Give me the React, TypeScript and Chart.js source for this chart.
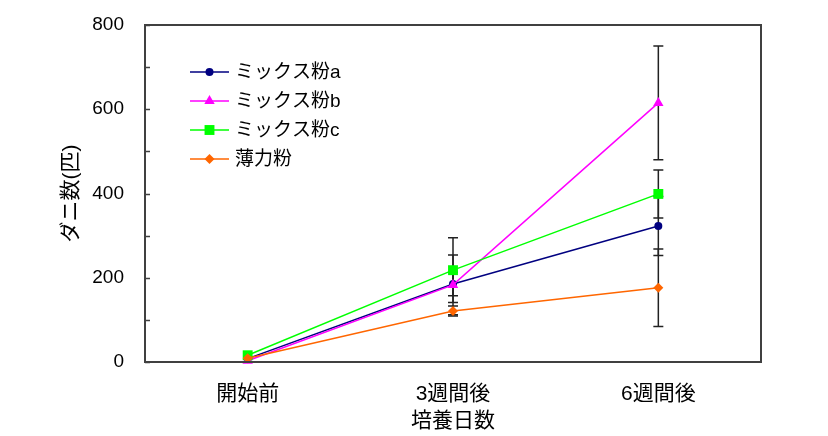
import React, { useEffect, useRef } from 'react';
import { Chart, registerables } from 'chart.js';

Chart.register(...registerables);

const categories = ['開始前', '3週間後', '6週間後'];
const seriesNames = ['ミックス粉a', 'ミックス粉b', 'ミックス粉c', '薄力粉'];
const mixA = [8, 185, 323];
const mixB = [3, 183, 615];
const mixC = [16, 218, 399];
const hakuriki = [9, 121, 176];
const errA = [0, 28, 70];
const errB = [0, 71, 135];
const errC = [0, 77, 57];
const errH = [0, 12, 92];
const yMin = 0;
const yMax = 800;
const yMinorStep = 100;
const yLabelStep = 200;
const xTitle = '培養日数';
const yTitle = 'ダニ数(匹)';

const colors = ['#000080', '#FF00FF', '#00FF00', '#FF6600'];
const styles = ['circle', 'triangle', 'rect', 'rectRot'];
const radii = [4, 6, 7, 5];
const FONT = '"Liberation Sans", "Noto Sans CJK JP", sans-serif';

function drawMarker(ctx: CanvasRenderingContext2D, style: string, x: number, y: number, r: number, color: string) {
  ctx.save();
  ctx.fillStyle = color;
  ctx.beginPath();
  if (style === 'circle') {
    ctx.arc(x, y, r, 0, Math.PI * 2);
  } else if (style === 'triangle') {
    for (let k = 0; k < 3; k++) {
      const a = -Math.PI / 2 + (k * 2 * Math.PI) / 3;
      const px = x + Math.cos(a) * r;
      const py = y + Math.sin(a) * r;
      if (k === 0) ctx.moveTo(px, py);
      else ctx.lineTo(px, py);
    }
    ctx.closePath();
  } else if (style === 'rect') {
    const s = r * Math.SQRT1_2;
    ctx.rect(x - s, y - s, 2 * s, 2 * s);
  } else {
    ctx.moveTo(x, y - r);
    ctx.lineTo(x + r, y);
    ctx.lineTo(x, y + r);
    ctx.lineTo(x - r, y);
    ctx.closePath();
  }
  ctx.fill();
  ctx.restore();
}

const errors = [errA, errB, errC, errH];

const customPlugin = {
  id: 'customDecor',
  beforeDatasetsDraw(chart: any) {
    const ctx = chart.ctx as CanvasRenderingContext2D;
    const xs = chart.scales.x;
    const ys = chart.scales.y;
    ctx.save();
    ctx.strokeStyle = '#222';
    ctx.lineWidth = 1.5;
    chart.data.datasets.forEach((ds: any, i: number) => {
      ds.data.forEach((v: number, j: number) => {
        const e = errors[i][j];
        if (!e) return;
        const x = xs.getPixelForValue(j);
        const yt = ys.getPixelForValue(v + e);
        const yb = ys.getPixelForValue(v - e);
        ctx.beginPath();
        ctx.moveTo(x, yt);
        ctx.lineTo(x, yb);
        ctx.moveTo(x - 5, yt);
        ctx.lineTo(x + 5, yt);
        ctx.moveTo(x - 5, yb);
        ctx.lineTo(x + 5, yb);
        ctx.stroke();
      });
    });
    ctx.restore();
  },
  afterDraw(chart: any) {
    const ctx = chart.ctx as CanvasRenderingContext2D;
    const a = chart.chartArea;
    const ys = chart.scales.y;
    ctx.save();
    ctx.strokeStyle = '#404040';
    ctx.lineWidth = 2;
    ctx.strokeRect(a.left, a.top, a.right - a.left, a.bottom - a.top);
    ctx.lineWidth = 1.5;
    ctx.beginPath();
    for (let v = yMin; v <= yMax; v += yMinorStep) {
      const y = Math.round(ys.getPixelForValue(v)) + 0.5;
      ctx.moveTo(a.left, y);
      ctx.lineTo(a.left + 5, y);
    }
    ctx.stroke();

    // legend
    const lx = a.left + 45;
    const ly = a.top + 47;
    ctx.font = `19px ${FONT}`;
    ctx.textBaseline = 'middle';
    ctx.textAlign = 'left';
    chart.data.datasets.forEach((ds: any, i: number) => {
      const y = ly + i * 29;
      ctx.strokeStyle = colors[i];
      ctx.lineWidth = 1.5;
      ctx.beginPath();
      ctx.moveTo(lx, y);
      ctx.lineTo(lx + 39, y);
      ctx.stroke();
      drawMarker(ctx, styles[i], lx + 19.5, y, radii[i], colors[i]);
      ctx.fillStyle = '#000';
      ctx.fillText(ds.label, lx + 45, y + 1);
    });
    ctx.restore();
  },
};

export default function App() {
  const ref = useRef<HTMLCanvasElement | null>(null);
  useEffect(() => {
    if (!ref.current) return;
    const series = [mixA, mixB, mixC, hakuriki];
    const chart = new Chart(ref.current, {
      type: 'line',
      data: {
        labels: categories,
        datasets: series.map((d, i) => ({
          label: seriesNames[i],
          data: d,
          borderColor: colors[i],
          backgroundColor: colors[i],
          borderWidth: 1.5,
          pointStyle: styles[i] as any,
          pointRadius: radii[i],
          pointBorderWidth: 0,
          pointBackgroundColor: colors[i],
          tension: 0,
          clip: false as any,
          order: 3 - i,
        })),
      },
      options: {
        animation: false,
        responsive: false,
        layout: { padding: { left: 0, right: 67, top: 25, bottom: 0 } },
        plugins: { legend: { display: false }, tooltip: { enabled: false } },
        scales: {
          x: {
            type: 'category',
            offset: true,
            grid: { display: false, drawTicks: false },
            border: { display: false },
            ticks: { color: '#000', padding: 20, font: { size: 21, family: FONT }, maxRotation: 0 },
            title: { display: true, text: xTitle, color: '#000', font: { size: 21, family: FONT }, padding: { top: 0, bottom: 2 } },
            afterFit: (s: any) => { s.height = 74; },
          },
          y: {
            min: yMin,
            max: yMax,
            grid: { display: false, drawTicks: false },
            border: { display: false },
            ticks: {
              stepSize: yMinorStep,
              color: '#000',
              padding: 21,
              font: { size: 19, family: FONT },
              callback: (v: any) => (Number(v) % yLabelStep === 0 ? String(v) : ''),
            },
            title: { display: true, text: yTitle, color: '#000', font: { size: 21, family: FONT }, padding: { top: 59, bottom: 0 } },
            afterFit: (s: any) => { s.width = 145; s.paddingTop = 0; s.paddingBottom = 0; },
          },
        },
      },
      plugins: [customPlugin],
    });
    return () => chart.destroy();
  }, []);
  return (
    <div style={{ position: 'fixed', left: 0, top: 0, width: 828, height: 436, background: '#fff' }}>
      <canvas ref={ref} width={828} height={436} style={{ width: 828, height: 436 }} />
    </div>
  );
}
